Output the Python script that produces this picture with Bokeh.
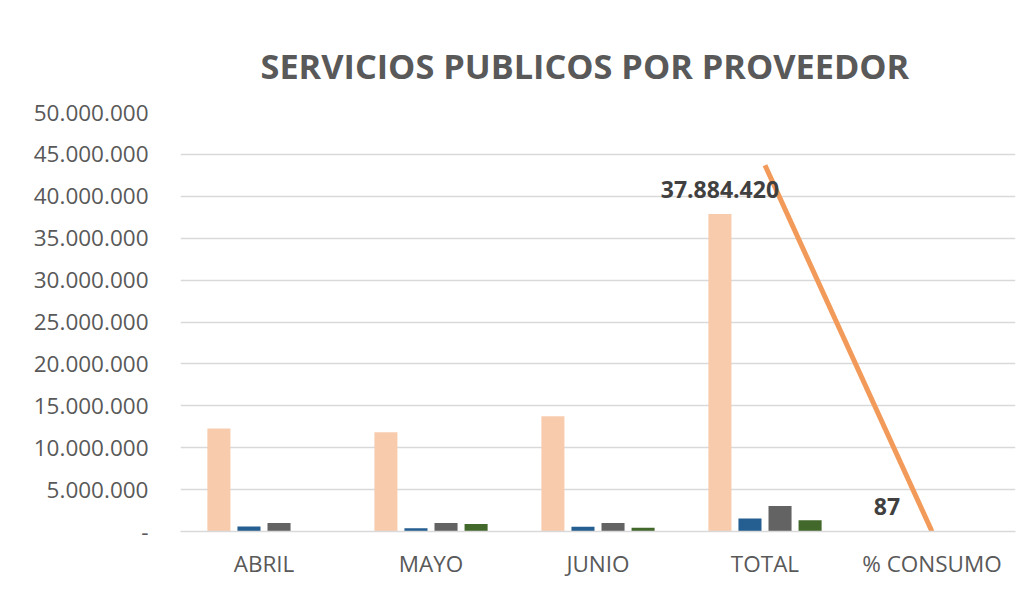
from bokeh.plotting import figure
from bokeh.models import ColumnDataSource, FactorRange, FixedTicker, CustomJSTickFormatter, Range1d
from bokeh.transform import dodge
from bokeh.core.properties import value
from bokeh.embed import file_html
from bokeh.resources import INLINE

categories = ["ABRIL", "MAYO", "JUNIO", "TOTAL", "% CONSUMO"]
serie_1 = [12300000, 11840000, 13760000, 37884420, 87]
serie_2 = [600000, 400000, 560000, 1540000, 4]
serie_3 = [1020000, 1020000, 1010000, 3050000, 8]
serie_4 = [0, 900000, 440000, 1340000, 4]
line_cats = ["TOTAL", "% CONSUMO"]
line_vals = [43700000, 0]
label_cats = ["TOTAL", "% CONSUMO"]
label_vals = [37884420, 87]
y_ticks = [0, 5000000, 10000000, 15000000, 20000000, 25000000,
           30000000, 35000000, 40000000, 45000000, 50000000]

colors = ["#F8CBAD", "#255E91", "#636363", "#43682B"]
offsets = [-0.27, -0.09, 0.09, 0.27]

src = ColumnDataSource(dict(cat=categories, s1=serie_1, s2=serie_2, s3=serie_3, s4=serie_4))

p = figure(x_range=FactorRange(*categories), y_range=Range1d(0, 50000000),
           width=1023, height=581, output_backend="svg", toolbar_location=None,
           min_border_left=180, min_border_right=8, min_border_top=112, min_border_bottom=48)

for key, col, off in zip(["s1", "s2", "s3", "s4"], colors, offsets):
    p.vbar(x=dodge("cat", off, range=p.x_range), top=key, width=0.138, source=src,
           fill_color=col, line_color=None)

p.line(x=line_cats, y=line_vals, line_color="#F29A59", line_width=5)

def fmt(v):
    return f"{v:,}".replace(",", ".")

lsrc = ColumnDataSource(dict(cat=label_cats, y=label_vals, t=[fmt(v) for v in label_vals]))
p.text(x=dodge("cat", -0.27, range=p.x_range), y="y", text="t", source=lsrc,
       text_align="center", text_baseline="middle", y_offset=-25,
       text_font=value("Open Sans"), text_font_style="bold", text_font_size="23px",
       text_color="#404040")

p.title.text = "SERVICIOS PUBLICOS POR PROVEEDOR"
p.title.align = "left"
p.title.offset = 80
p.title.text_font = "Open Sans"
p.title.text_font_style = "bold"
p.title.text_font_size = "34.3px"
p.title.text_color = "#595959"
p.title.standoff = 47

p.yaxis.ticker = FixedTicker(ticks=y_ticks)
p.yaxis.formatter = CustomJSTickFormatter(code="""
if (tick == 0) { return '-'; }
return Math.round(tick).toString().replace(/\\B(?=(\\d{3})+(?!\\d))/g, '.');
""")
p.yaxis.axis_line_color = None
p.yaxis.major_tick_line_color = None
p.yaxis.minor_tick_line_color = None
p.yaxis.major_label_standoff = 26
p.yaxis.major_label_text_font = "Open Sans"
p.yaxis.major_label_text_font_size = "22.5px"
p.yaxis.major_label_text_color = "#595959"

p.xaxis.axis_line_color = "#D9D9D9"
p.xaxis.axis_line_width = 1.5
p.xaxis.major_tick_line_color = None
p.xaxis.minor_tick_line_color = None
p.xaxis.major_label_standoff = 10
p.xaxis.major_label_text_font = "Open Sans"
p.xaxis.major_label_text_font_size = "22.5px"
p.xaxis.major_label_text_color = "#595959"

p.xgrid.grid_line_color = None
p.ygrid.grid_line_color = "#D9D9D9"
p.ygrid.grid_line_width = 1.5
p.outline_line_color = None
p.background_fill_color = "white"
p.border_fill_color = "white"

open("out.html", "w").write(file_html(p, INLINE))
